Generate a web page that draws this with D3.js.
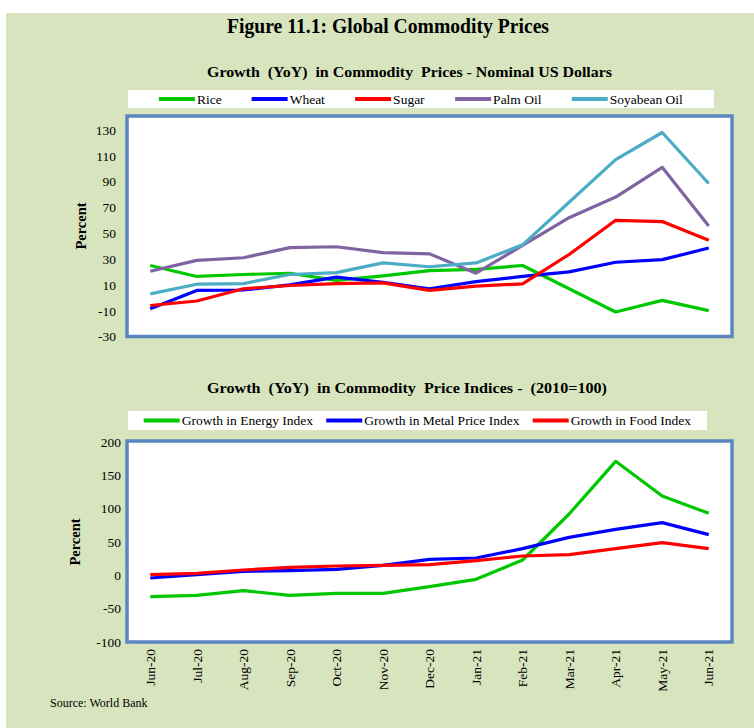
<!DOCTYPE html>
<html>
<head>
<meta charset="utf-8">
<script src="https://cdn.jsdelivr.net/npm/d3@7"></script>
<style>
  body { margin: 0; background: #fff; }
  svg { display: block; font-family: "Liberation Serif", "Times New Roman", serif; }
  .pre { white-space: pre; }
</style>
</head>
<body>
<svg id="chart" width="754" height="728"></svg>
<script>
// months on the x axis (shared by both panels)
var months = ["Jun-20","Jul-20","Aug-20","Sep-20","Oct-20","Nov-20","Dec-20","Jan-21","Feb-21","Mar-21","Apr-21","May-21","Jun-21"];

// top panel: growth (YoY) in commodity prices, %
var commodityNames = ["Rice","Wheat","Sugar","Palm Oil","Soyabean Oil"];
var rice     = [25, 16.5, 18, 19, 13.5, 17, 21, 22, 25, 7, -11, -2, -10];
var wheat    = [-8.5, 5.7, 6, 10, 16, 12, 7, 12.5, 16.5, 20, 27.5, 29.5, 38.5];
var sugar    = [-6, -2.5, 7, 9.5, 11, 11.5, 5.7, 9, 10.8, 33.5, 60, 59, 44.5];
var palmOil  = [20.5, 29, 31, 38.8, 39.5, 35, 34, 19, 40.5, 62, 78, 101, 55.5];
var soyOil   = [3, 10.5, 11, 18, 19.5, 27, 24, 27, 41, 74, 107, 128, 88.5];
var commodityTicks = [-30, -10, 10, 30, 50, 70, 90, 110, 130];

// bottom panel: growth (YoY) in commodity price indices (2010=100), %
var indexNames = ["Growth in Energy Index","Growth in Metal Price Index","Growth in Food Index"];
var energy = [-32, -30, -23, -30, -27, -27, -17, -6, 23, 92, 171, 119, 93];
var metal  = [-4, 1, 6, 7, 9, 15, 24, 26, 40, 57, 69, 79, 61];
var food   = [1, 3, 8, 12, 14, 15, 16, 22, 29, 31, 40, 49, 40];
var indexTicks = [-100, -50, 0, 50, 100, 150, 200];

var topColors = ["#00c800", "#0000ff", "#ff0000", "#8064a2", "#4bacc6"];
var bottomColors = ["#00c800", "#0000ff", "#ff0000"];

var svg = d3.select("#chart");

// background panel
svg.append("rect").attr("x", 6).attr("y", 13).attr("width", 748).attr("height", 715).attr("fill", "#d7e4bd");

svg.append("text").attr("x", 227).attr("y", 33)
  .attr("font-size", 20).attr("font-weight", "bold")
  .attr("textLength", 322).attr("lengthAdjust", "spacingAndGlyphs")
  .text("Figure 11.1: Global Commodity Prices");

var x = d3.scaleBand().domain(months).range([127, 732]);

function drawPanel(opt) {
  var g = svg.append("g");
  var y = d3.scaleLinear().domain(opt.domain).range(opt.range);

  g.append("text").attr("class", "pre").attr("x", opt.titleX).attr("y", opt.titleY)
    .attr("font-size", 15.5).attr("font-weight", "bold")
    .attr("textLength", opt.titleW).attr("lengthAdjust", "spacingAndGlyphs").text(opt.title);

  // legend
  var lg = g.append("g");
  lg.append("rect").attr("x", opt.legend.x).attr("y", opt.legend.y)
    .attr("width", opt.legend.w).attr("height", opt.legend.h).attr("fill", "#fff");
  var items = lg.selectAll("g.item").data(opt.names).enter().append("g").attr("class", "item");
  items.append("line").attr("x1", 0).attr("x2", opt.legend.lineLen).attr("y1", 0).attr("y2", 0)
    .attr("stroke", function(d, i) { return opt.colors[i]; }).attr("stroke-width", 4);
  items.append("text").attr("x", opt.legend.lineLen + 2).attr("y", 4.5)
    .attr("font-size", opt.legend.fs).text(function(d) { return d; });
  var widths = [];
  items.each(function() { widths.push(this.getBBox().width); });
  var total = d3.sum(widths) + opt.legend.gap * (widths.length - 1);
  var cx = opt.legend.x + (opt.legend.w - total) / 2;
  items.attr("transform", function(d, i) {
    var tx = cx + d3.sum(widths.slice(0, i)) + opt.legend.gap * i;
    return "translate(" + tx + "," + (opt.legend.y + opt.legend.h / 2) + ")";
  });

  // plot area
  g.append("rect").attr("x", 127).attr("y", opt.range[1] - 1).attr("width", 605)
    .attr("height", opt.range[0] - opt.range[1] + 1).attr("fill", "#fff");

  var line = d3.line().x(function(d, i) { return x(months[i]) + x.bandwidth() / 2; }).y(function(d) { return y(d); });
  g.selectAll("path.series").data(opt.series).enter().append("path").attr("class", "series")
    .attr("d", line).attr("fill", "none")
    .attr("stroke", function(d, i) { return opt.colors[i]; })
    .attr("stroke-width", 3.2).attr("stroke-linejoin", "round");

  g.append("rect").attr("x", 127).attr("y", opt.range[1] - 1).attr("width", 605)
    .attr("height", opt.range[0] - opt.range[1] + 1).attr("fill", "none")
    .attr("stroke", "#5b87c0").attr("stroke-width", 3.5);

  // y axis
  var yAxis = g.append("g").attr("transform", "translate(" + opt.axisX + ",0)")
    .call(d3.axisLeft(y).tickValues(opt.ticks).tickSize(0).tickPadding(0)
      .tickFormat(function(d) { return String(d); }));
  yAxis.select(".domain").remove();
  yAxis.selectAll("text").attr("font-family", "Liberation Serif").attr("font-size", 13.5).attr("fill", "#000");

  g.append("text").attr("transform", "translate(" + opt.ylabX + "," + opt.ylabY + ") rotate(-90)")
    .attr("text-anchor", "middle").attr("font-size", 14.5).attr("font-weight", "bold").text("Percent");
  return g;
}

drawPanel({
  title: "Growth  (YoY)  in Commodity  Prices - Nominal US Dollars",
  titleX: 207, titleY: 77, titleW: 405,
  names: commodityNames, colors: topColors,
  series: [rice, wheat, sugar, palmOil, soyOil],
  domain: [-30, 140], range: [336.5, 117], ticks: commodityTicks,
  axisX: 116, ylabX: 86, ylabY: 226,
  legend: { x: 128, y: 90, w: 586, h: 18, lineLen: 36, gap: 30, fs: 13.5 }
});

drawPanel({
  title: "Growth  (YoY)  in Commodity  Price Indices -  (2010=100)",
  titleX: 207, titleY: 393, titleW: 400,
  names: indexNames, colors: bottomColors,
  series: [energy, metal, food],
  domain: [-100, 200], range: [642, 442], ticks: indexTicks,
  axisX: 121, ylabX: 80, ylabY: 542,
  legend: { x: 128, y: 411, w: 579, h: 19, lineLen: 36, gap: 13, fs: 13.5 }
});

// x axis labels under the bottom panel
var xAxis = svg.append("g").attr("transform", "translate(0,649)")
  .call(d3.axisBottom(x).tickSize(0).tickPadding(0));
xAxis.select(".domain").remove();
xAxis.selectAll("text").attr("font-family", "Liberation Serif").attr("font-size", 13.5).attr("fill", "#000")
  .attr("transform", "rotate(-90)").attr("text-anchor", "end").attr("dy", "0.35em").attr("x", 0).attr("y", 0);

svg.append("text").attr("x", 50).attr("y", 707).attr("font-size", 12).text("Source: World Bank");
</script>
</body>
</html>
